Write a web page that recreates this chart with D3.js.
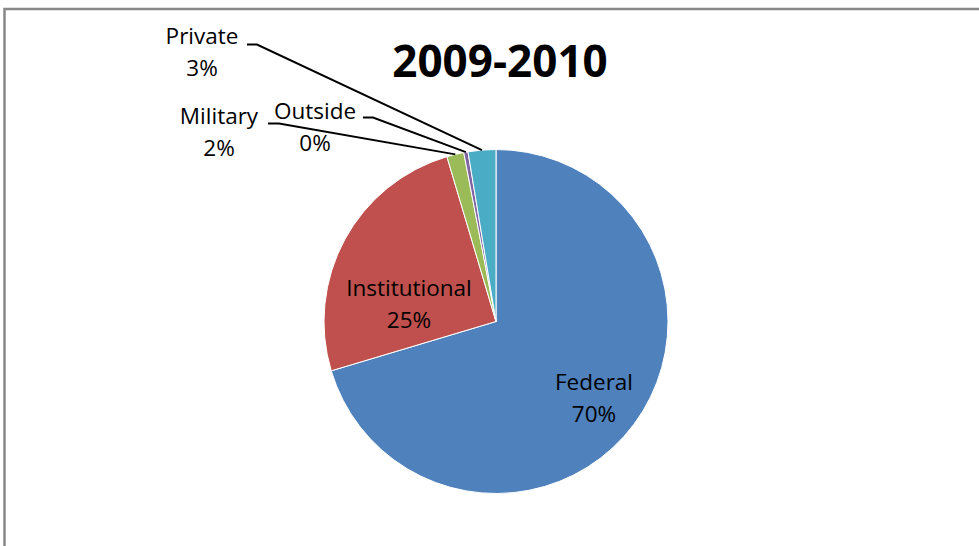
<!DOCTYPE html>
<html lang="en">
<head>
  <meta charset="utf-8" />
  <title>2009-2010</title>
  <style>
    body {
      margin: 0;
      background: #fff;
    }
    svg text {
      font-family: "Open Sans", sans-serif;
      fill: #000;
    }
    .slice {
      stroke: #fff;
      stroke-width: 1px;
    }
    .leader {
      fill: none;
      stroke: #000;
      stroke-width: 2px;
    }
  </style>
</head>
<body>
<script src="https://cdn.jsdelivr.net/npm/d3@7"></script>
<script>
  // data (percent share)
  const categories = ["Federal", "Institutional", "Military", "Outside", "Private"];
  const values = [70.3, 25.0, 1.6, 0.4, 2.6];
  const colors = ["#4F81BD", "#C0504D", "#9BBB59", "#8064A2", "#4BACC6"];
  const title = "2009-2010";

  const width = 979;
  const height = 546;
  const cx = 496, cy = 321.5, radius = 172;

  // where each data label sits (text centre x, first baseline y)
  // inside labels have no leader; outside ones get an elbow line
  const labelLayout = {
    Federal:       { x: 594, y: 390, leader: null },
    Institutional: { x: 409, y: 296, leader: null },
    Military:      { x: 219, y: 124, leader: [268, 279, 123.5] },
    Outside:       { x: 315, y: 119, leader: [363, 373, 117.5] },
    Private:       { x: 202, y: 44,  leader: [247, 257, 44.5] }
  };

  const svg = d3.select("body")
    .append("svg")
    .attr("width", width)
    .attr("height", height);

  // chart area border (runs off the right and bottom of the window)
  svg.append("rect")
    .attr("x", 4.5)
    .attr("y", 9)
    .attr("width", width + 20)
    .attr("height", height + 20)
    .attr("fill", "none")
    .attr("stroke", "#888")
    .attr("stroke-width", 2.5);

  svg.append("text")
    .attr("x", cx + 4)
    .attr("y", 77)
    .attr("text-anchor", "middle")
    .style("font-size", "44px")
    .style("font-weight", "bold")
    .text(title);

  const data = categories.map((c, i) => ({ name: c, value: values[i], color: colors[i] }));
  const total = d3.sum(values);

  const pie = d3.pie()
    .sort(null)
    .value(d => d.value);

  const arc = d3.arc()
    .innerRadius(0)
    .outerRadius(radius);

  const arcs = pie(data);

  const g = svg.append("g").attr("transform", `translate(${cx},${cy})`);

  g.selectAll("path.slice")
    .data(arcs)
    .enter()
    .append("path")
    .attr("class", "slice")
    .attr("d", arc)
    .attr("fill", d => d.data.color);

  // leader lines: label -> short horizontal -> slice edge at mid angle
  const edgePoint = d => {
    const a = (d.startAngle + d.endAngle) / 2;
    return [cx + radius * Math.sin(a), cy - radius * Math.cos(a)];
  };

  svg.selectAll("path.leader")
    .data(arcs.filter(d => labelLayout[d.data.name].leader))
    .enter()
    .append("path")
    .attr("class", "leader")
    .attr("d", d => {
      const [x0, x1, y] = labelLayout[d.data.name].leader;
      const [ex, ey] = edgePoint(d);
      return `M${x0},${y}L${x1},${y}L${ex},${ey}`;
    });

  const labels = svg.selectAll("text.label")
    .data(arcs)
    .enter()
    .append("text")
    .attr("class", "label")
    .attr("text-anchor", "middle")
    .style("font-size", "22.5px");

  labels.append("tspan")
    .attr("x", d => labelLayout[d.data.name].x)
    .attr("y", d => labelLayout[d.data.name].y)
    .text(d => d.data.name);

  labels.append("tspan")
    .attr("x", d => labelLayout[d.data.name].x)
    .attr("dy", 32)
    .text(d => Math.round(d.data.value / total * 100) + "%");
</script>
</body>
</html>
